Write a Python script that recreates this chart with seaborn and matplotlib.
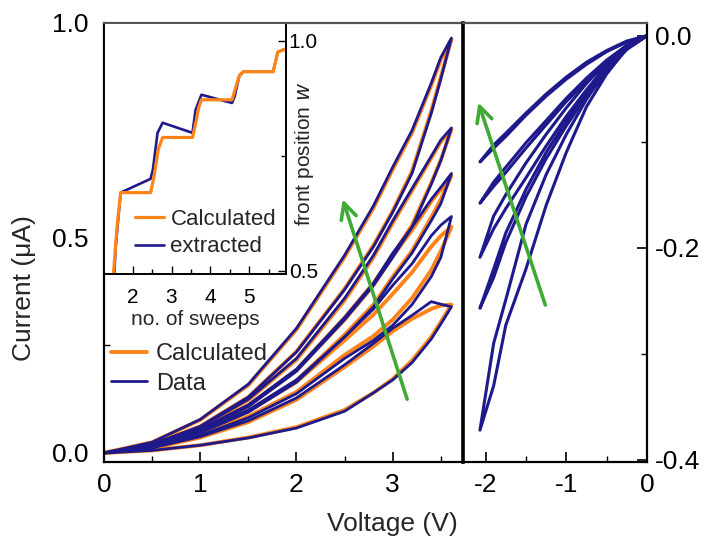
import matplotlib
matplotlib.use("Agg")
import matplotlib.pyplot as plt
from matplotlib.ticker import MultipleLocator, FormatStrFormatter
import seaborn as sns
import pandas as pd

# ---------------- data ----------------
# positive sweep (left panel): common voltage grid (V)
pos_V = [0, 0.5, 1.0, 1.5, 2.0, 2.5, 2.8, 3.0, 3.2, 3.4, 3.5, 3.61]

# measured data, current (uA): lower (up-sweep) and upper (down-sweep) branches
data_low_1 = [0, 0.006, 0.018, 0.035, 0.058, 0.097, 0.140, 0.170, 0.210, 0.265, 0.300, 0.340]
data_up_1 = [0, 0.012, 0.038, 0.075, 0.128, 0.205, 0.255, 0.290, 0.320, 0.352, 0.346, 0.340]
data_low_2 = [0, 0.013, 0.041, 0.082, 0.138, 0.220, 0.262, 0.297, 0.345, 0.410, 0.455, 0.550]
data_up_2 = [0, 0.016, 0.050, 0.100, 0.170, 0.270, 0.335, 0.390, 0.440, 0.505, 0.530, 0.550]
data_low_3 = [0, 0.015, 0.047, 0.095, 0.165, 0.270, 0.340, 0.405, 0.465, 0.540, 0.580, 0.650]
data_up_3 = [0, 0.018, 0.055, 0.112, 0.195, 0.315, 0.395, 0.465, 0.525, 0.590, 0.618, 0.650]
data_low_4 = [0, 0.017, 0.052, 0.108, 0.190, 0.310, 0.390, 0.455, 0.525, 0.625, 0.680, 0.756]
data_up_4 = [0, 0.020, 0.060, 0.125, 0.220, 0.360, 0.460, 0.540, 0.615, 0.690, 0.728, 0.756]
data_low_5 = [0, 0.020, 0.062, 0.130, 0.235, 0.380, 0.480, 0.560, 0.650, 0.790, 0.870, 0.965]
data_up_5 = [0, 0.025, 0.078, 0.160, 0.290, 0.460, 0.575, 0.665, 0.750, 0.860, 0.920, 0.965]

# calculated
calc_low_1 = [0, 0.006, 0.018, 0.036, 0.060, 0.100, 0.140, 0.172, 0.215, 0.270, 0.305, 0.345]
calc_up_1 = [0, 0.011, 0.036, 0.072, 0.124, 0.200, 0.248, 0.283, 0.312, 0.335, 0.343, 0.345]
calc_low_2 = [0, 0.013, 0.042, 0.085, 0.142, 0.228, 0.272, 0.310, 0.360, 0.425, 0.470, 0.526]
calc_up_2 = [0, 0.015, 0.048, 0.097, 0.165, 0.262, 0.322, 0.370, 0.420, 0.480, 0.505, 0.526]
calc_low_3 = [0, 0.015, 0.048, 0.097, 0.168, 0.275, 0.345, 0.410, 0.470, 0.548, 0.590, 0.645]
calc_up_3 = [0, 0.018, 0.054, 0.110, 0.192, 0.310, 0.390, 0.458, 0.518, 0.585, 0.613, 0.645]
calc_low_4 = [0, 0.017, 0.053, 0.110, 0.193, 0.315, 0.395, 0.460, 0.530, 0.628, 0.682, 0.752]
calc_up_4 = [0, 0.020, 0.059, 0.123, 0.217, 0.355, 0.455, 0.535, 0.610, 0.686, 0.724, 0.752]
calc_low_5 = [0, 0.020, 0.062, 0.130, 0.236, 0.382, 0.483, 0.563, 0.655, 0.795, 0.875, 0.962]
calc_up_5 = [0, 0.025, 0.077, 0.158, 0.287, 0.456, 0.570, 0.660, 0.745, 0.855, 0.915, 0.962]

# negative sweep (right panel)
neg_V = [0, -0.25, -0.5, -0.75, -1.0, -1.25, -1.5, -1.75, -1.9, -2.07]
neg_out_1 = [0, -0.005, -0.014, -0.025, -0.039, -0.055, -0.073, -0.092, -0.103, -0.119]
neg_back_1 = [0, -0.006, -0.015, -0.027, -0.041, -0.057, -0.075, -0.095, -0.106, -0.119]
neg_out_2 = [0, -0.009, -0.023, -0.040, -0.059, -0.080, -0.101, -0.124, -0.138, -0.158]
neg_back_2 = [0, -0.010, -0.025, -0.043, -0.062, -0.084, -0.106, -0.129, -0.142, -0.158]
neg_out_3 = [0, -0.009, -0.025, -0.045, -0.068, -0.093, -0.120, -0.150, -0.170, -0.209]
neg_back_3 = [0, -0.010, -0.028, -0.051, -0.076, -0.104, -0.134, -0.163, -0.182, -0.209]
neg_out_4 = [0, -0.012, -0.031, -0.054, -0.080, -0.110, -0.145, -0.186, -0.220, -0.257]
neg_back_4 = [0, -0.013, -0.033, -0.057, -0.085, -0.116, -0.152, -0.195, -0.228, -0.257]
neg_out_5 = [0, -0.011, -0.032, -0.060, -0.093, -0.131, -0.178, -0.249, -0.290, -0.372]
neg_back_5 = [0, -0.012, -0.036, -0.067, -0.110, -0.160, -0.220, -0.273, -0.330, -0.372]

# inset: front position vs number of sweeps
calc_sweep = [1.45, 1.51, 1.60, 1.69, 2.46, 2.55, 2.66, 2.77, 3.54, 3.62, 3.70, 3.77, 4.56, 4.64, 4.75, 4.85, 5.62, 5.68, 5.74, 5.92]
calc_w = [0.45, 0.50, 0.60, 0.67, 0.67, 0.705, 0.765, 0.79, 0.79, 0.82, 0.855, 0.872, 0.872, 0.895, 0.925, 0.933, 0.933, 0.955, 0.976, 0.982]
ext_sweep = [1.50, 1.56, 1.64, 1.69, 2.46, 2.52, 2.64, 2.77, 3.54, 3.62, 3.77, 4.56, 4.63, 4.75, 4.85, 5.62, 5.68, 5.74, 5.92]
ext_w = [0.45, 0.55, 0.625, 0.67, 0.70, 0.72, 0.80, 0.822, 0.80, 0.85, 0.883, 0.865, 0.88, 0.925, 0.933, 0.933, 0.955, 0.976, 0.982]

# arrows (tail -> head)
arrow_pos = [(3.15, 0.125), (2.48, 0.59)]
arrow_neg = [(-1.26, -0.254), (-2.09, -0.063)]

BLUE = "#1E1A8C"
ORANGE = "#FF8418"
GREEN = "#40AA35"

# ---------------- style ----------------
sns.set_theme(style="ticks")
plt.rcParams["font.family"] = ["Liberation Sans", "DejaVu Sans"]
plt.rcParams["axes.unicode_minus"] = False

fig = plt.figure(figsize=(7.11, 5.4), dpi=100)
W, H = 711, 540
L, R, D, T = 104, 463, 462, 23
RR = 647
ax1 = fig.add_axes([L / W, 1 - D / H, (R - L) / W, (D - T) / H])
ax2 = fig.add_axes([R / W, 1 - D / H, (RR - R) / W, (D - T) / H])
axin = fig.add_axes([L / W, 1 - 274 / H, (286 - L) / W, (274 - T) / H])

def loop(v, low, up):
    return pd.DataFrame({"V": list(v) + list(v[::-1]), "I": list(low) + list(up[::-1])})

calc_loops = [(calc_low_1, calc_up_1), (calc_low_2, calc_up_2), (calc_low_3, calc_up_3),
              (calc_low_4, calc_up_4), (calc_low_5, calc_up_5)]
data_loops = [(data_low_1, data_up_1), (data_low_2, data_up_2), (data_low_3, data_up_3),
              (data_low_4, data_up_4), (data_low_5, data_up_5)]

for i, (lo, up) in enumerate(calc_loops):
    df = loop(pos_V, lo, up)
    sns.lineplot(data=df, x="V", y="I", sort=False, estimator=None, ax=ax1,
                 color=ORANGE, lw=2.8, label="Calculated" if i == 0 else None)
for i, (lo, up) in enumerate(data_loops):
    df = loop(pos_V, lo, up)
    sns.lineplot(data=df, x="V", y="I", sort=False, estimator=None, ax=ax1,
                 color=BLUE, lw=2.0, label="Data" if i == 0 else None)

neg_loops = [(neg_out_1, neg_back_1), (neg_out_2, neg_back_2), (neg_out_3, neg_back_3),
             (neg_out_4, neg_back_4), (neg_out_5, neg_back_5)]
for lo, up in neg_loops:
    df = loop(neg_V, lo, up)
    sns.lineplot(data=df, x="V", y="I", sort=False, estimator=None, ax=ax2,
                 color=BLUE, lw=2.2, legend=False)

# arrows
for ax, (tail, head) in ((ax1, arrow_pos), (ax2, arrow_neg)):
    ax.annotate("", xy=head, xytext=tail,
                arrowprops=dict(arrowstyle="->", color=GREEN, lw=2.6, mutation_scale=28,
                                shrinkA=0, shrinkB=0))

# axes settings
ax1.set_xlim(0, 3.73)
ax1.set_ylim(-0.021, 1.0)
ax2.set_xlim(-2.28, 0)
ax2.set_ylim(-0.402, 0.012)

for ax in (ax1, ax2):
    ax.set_xlabel("")
    ax.set_ylabel("")
    ax.tick_params(which="both", direction="in", labelsize=19, colors="black")
    ax.tick_params(which="major", length=7, width=1.2)
    ax.tick_params(which="minor", length=4, width=1.0)
    for s in ax.spines.values():
        s.set_color("black")
        s.set_linewidth(1.6)
    ax.spines["top"].set_color("#555555")

ax1.xaxis.set_major_locator(MultipleLocator(1))
ax1.xaxis.set_minor_locator(MultipleLocator(0.5))
ax1.yaxis.set_major_locator(MultipleLocator(0.5))
ax1.yaxis.set_minor_locator(MultipleLocator(0.25))
ax1.yaxis.set_major_formatter(FormatStrFormatter("%.1f"))
ax1.tick_params(axis="y", pad=11)
ax1.tick_params(axis="x", pad=8)
ax1.spines["right"].set_visible(False)

ax2.patch.set_alpha(0)
ax2.xaxis.set_major_locator(MultipleLocator(1))
ax2.xaxis.set_minor_locator(MultipleLocator(0.5))
ax2.yaxis.set_major_locator(MultipleLocator(0.2))
ax2.yaxis.set_minor_locator(MultipleLocator(0.1))
ax2.yaxis.set_major_formatter(FormatStrFormatter("%.1f"))
ax2.yaxis.tick_right()
ax2.tick_params(axis="y", pad=6)
ax2.tick_params(axis="x", pad=8)
ax2.spines["left"].set_linewidth(2.6)
ax2.set_xticks([-2, -1, 0])

leg = ax1.legend(loc="upper left", bbox_to_anchor=(0.02, 0.27), frameon=False,
                 fontsize=17, handlelength=1.5, handletextpad=0.4, labelspacing=0.3,
                 borderpad=0, borderaxespad=0)

fig.text(392 / W, 1 - 524 / H, "Voltage (V)", ha="center", va="center", fontsize=19)
fig.text(24 / W, 1 - 288 / H, "Current (μA)", ha="center", va="center", fontsize=19, rotation=90)

# inset
axin.set_facecolor("white")
sns.lineplot(x=ext_sweep, y=ext_w, sort=False, estimator=None, ax=axin, color=BLUE, lw=1.9, label="extracted")
sns.lineplot(x=calc_sweep, y=calc_w, sort=False, estimator=None, ax=axin, color=ORANGE, lw=2.3, label="Calculated")
axin.set_xlim(1.26, 5.95)
axin.set_ylim(0.493, 1.039)
axin.xaxis.set_major_locator(MultipleLocator(1))
axin.xaxis.set_minor_locator(MultipleLocator(0.5))
axin.yaxis.set_major_locator(MultipleLocator(0.5))
axin.yaxis.set_minor_locator(MultipleLocator(0.25))
axin.yaxis.set_major_formatter(FormatStrFormatter("%.1f"))
axin.yaxis.tick_right()
axin.tick_params(which="both", direction="in", labelsize=15, colors="black")
axin.tick_params(axis="x", pad=10)
axin.tick_params(axis="y", pad=2)
axin.tick_params(which="major", length=6, width=1.0)
axin.tick_params(which="minor", length=3.5, width=1.0)
for s in axin.spines.values():
    s.set_color("black")
    s.set_linewidth(1.4)
axin.spines["top"].set_color("#555555")
axin.set_xlabel("no. of sweeps", fontsize=15, labelpad=2)
axin.set_ylabel("")
fig.text(305 / W, 1 - 154 / H, "front position $\\it{w}$", ha="center", va="center",
         fontsize=15, rotation=90)
h, l = axin.get_legend_handles_labels()
axin.legend([h[1], h[0]], [l[1], l[0]], loc="upper left", bbox_to_anchor=(0.17, 0.26),
            frameon=False, fontsize=16, handlelength=1.3, handletextpad=0.3,
            labelspacing=0.3, borderpad=0, borderaxespad=0)

fig.savefig("out.png", dpi=100)
